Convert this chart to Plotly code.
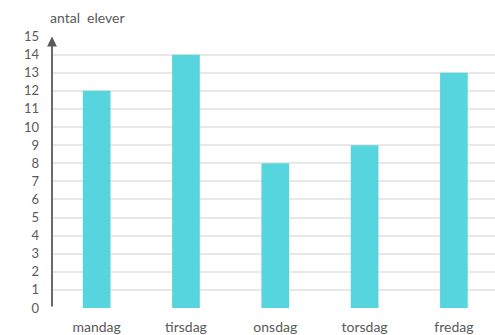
import plotly.graph_objects as go

days = ["mandag", "tirsdag", "onsdag", "torsdag", "fredag"]
students = [12, 14, 8, 9, 13]
y_ticks = list(range(0, 16))

BAR_COLOR = "#56d5df"
TEXT_COLOR = "#595959"
FONT = "Lato"

fig = go.Figure()
fig.add_trace(go.Bar(
    x=days,
    y=students,
    marker=dict(color=BAR_COLOR, line=dict(width=0)),
    hoverinfo="x+y",
))

# vertical axis with arrowhead
fig.add_annotation(
    x=-0.5, y=15, ax=-0.5, ay=0,
    xref="x", yref="y", axref="x", ayref="y",
    showarrow=True, arrowhead=2, arrowsize=1.1, arrowwidth=1.8,
    arrowcolor="#5a5a5a", text="",
)

fig.add_annotation(
    text="antal  elever", xref="paper", yref="paper",
    x=-0.01, y=1.0, yshift=19, xanchor="left", yanchor="middle",
    showarrow=False, font=dict(family=FONT, size=14, color=TEXT_COLOR),
)

fig.update_layout(
    width=495, height=335,
    margin=dict(l=52, r=0, t=36, b=27),
    paper_bgcolor="white", plot_bgcolor="white",
    bargap=0.69,
    showlegend=False,
    font=dict(family=FONT, size=13, color=TEXT_COLOR),
    xaxis=dict(
        range=[-0.5, 4.46], showgrid=False, showline=False,
        ticks="", tickfont=dict(family=FONT, size=14, color=TEXT_COLOR),
        ticklabelstandoff=9,
    ),
    yaxis=dict(
        range=[0, 15.03], tickvals=y_ticks, showline=False,
        gridcolor="#e8e8e8", gridwidth=1.5, zeroline=False,
        ticks="", tickfont=dict(family=FONT, size=13, color=TEXT_COLOR),
        ticklabelstandoff=12,
    ),
)

fig.write_html("out.html")
